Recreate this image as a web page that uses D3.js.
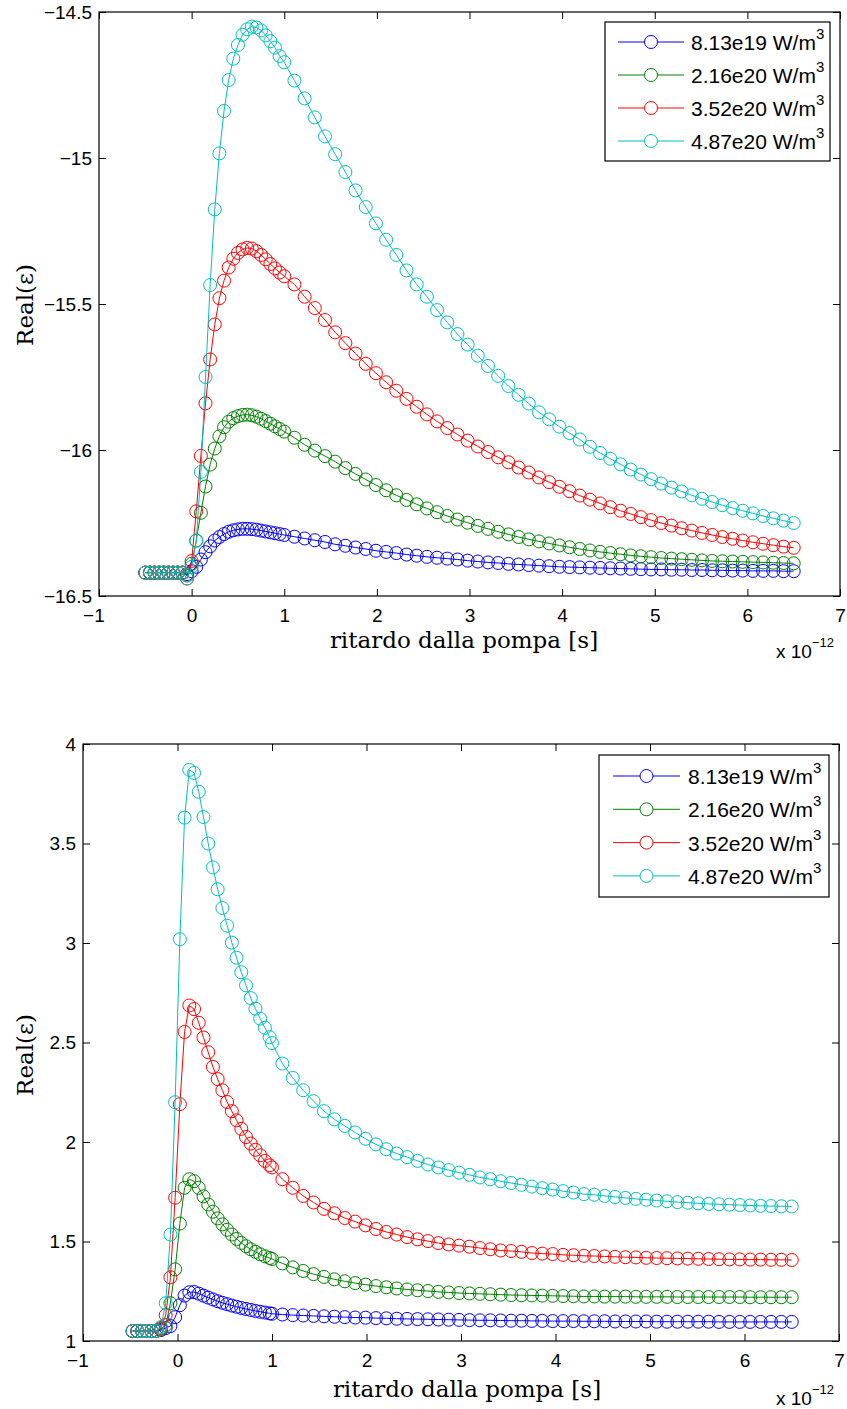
<!DOCTYPE html>
<html>
<head>
<meta charset="utf-8">
<script src="https://cdn.jsdelivr.net/npm/d3@7"></script>
<style>
  html, body { margin: 0; padding: 0; background: #ffffff; }
  svg { display: block; }
</style>
</head>
<body>
<svg id="chart" width="847" height="1409"></svg>
<script>
// ---- delay axis (units of 1e-12 s) ----
const xTop = [-0.5,-0.45,-0.4,-0.35,-0.3,-0.25,-0.2,-0.15,-0.1,-0.05,
  0,0.05,0.1,0.15,0.2,0.25,0.3,0.35,0.4,0.45,0.5,0.55,0.6,0.65,0.7,0.75,0.8,0.85,0.9,0.95,1,
  1.11,1.22,1.33,1.44,1.55,1.66,1.77,1.88,1.99,2.1,2.21,2.32,2.43,2.54,2.65,2.76,2.87,2.98,3.09,
  3.2,3.31,3.42,3.53,3.64,3.75,3.86,3.97,4.08,4.19,4.3,4.41,4.52,4.63,4.74,4.85,4.96,5.07,5.18,5.29,
  5.4,5.51,5.62,5.73,5.84,5.95,6.06,6.17,6.28,6.39,6.5];

const xBottom = [-0.475,-0.425,-0.375,-0.325,-0.275,-0.225,-0.175,-0.125,-0.075,-0.025,
  0.025,0.075,0.125,0.175,0.225,0.275,0.325,0.375,0.425,0.475,0.525,0.575,0.625,0.675,0.725,0.775,0.825,0.875,0.925,0.975,1,
  1.11,1.22,1.33,1.44,1.55,1.66,1.77,1.88,1.99,2.1,2.21,2.32,2.43,2.54,2.65,2.76,2.87,2.98,3.09,
  3.2,3.31,3.42,3.53,3.64,3.75,3.86,3.97,4.08,4.19,4.3,4.41,4.52,4.63,4.74,4.85,4.96,5.07,5.18,5.29,
  5.4,5.51,5.62,5.73,5.84,5.95,6.06,6.17,6.28,6.39,6.5];

// ---- upper panel: Real(eps) ----
const topBlue = [-16.42,-16.42,-16.42,-16.42,-16.42,-16.42,-16.42,-16.42,-16.42,-16.425,
  -16.415,-16.40,-16.375,-16.35,-16.33,-16.31,-16.298,-16.288,-16.28,-16.275,-16.272,-16.27,-16.27,-16.271,-16.273,-16.276,-16.279,-16.282,-16.285,-16.288,-16.291,
  -16.297,-16.303,-16.309,-16.315,-16.323,-16.328,-16.334,-16.339,-16.345,-16.349,
  -16.353,-16.358,-16.362,-16.366,-16.369,-16.372,-16.375,-16.379,-16.382,-16.385,
  -16.387,-16.39,-16.392,-16.394,-16.396,-16.398,-16.4,-16.401,-16.402,-16.403,
  -16.404,-16.405,-16.406,-16.407,-16.408,-16.409,-16.409,-16.41,-16.41,-16.411,
  -16.411,-16.412,-16.412,-16.413,-16.413,-16.414,-16.414,-16.414,-16.415,-16.415];

const topGreen = [-16.42,-16.42,-16.42,-16.42,-16.42,-16.42,-16.42,-16.42,-16.42,-16.43,
  -16.39,-16.31,-16.215,-16.125,-16.05,-15.995,-15.953,-15.922,-15.903,-15.891,-15.884,-15.88,-15.879,-15.881,-15.886,-15.893,-15.901,-15.91,-15.919,-15.928,-15.937,
  -15.958,-15.982,-16.002,-16.021,-16.04,-16.062,-16.082,-16.101,-16.12,-16.138,
  -16.155,-16.171,-16.186,-16.2,-16.213,-16.226,-16.238,-16.249,-16.26,-16.27,
  -16.28,-16.289,-16.298,-16.306,-16.313,-16.32,-16.327,-16.333,-16.339,-16.344,
  -16.349,-16.353,-16.357,-16.361,-16.364,-16.367,-16.37,-16.372,-16.374,-16.376,
  -16.378,-16.38,-16.381,-16.382,-16.383,-16.384,-16.385,-16.386,-16.387,-16.388];

const topRed = [-16.42,-16.42,-16.42,-16.42,-16.42,-16.42,-16.42,-16.42,-16.42,-16.44,
  -16.38,-16.21,-16.02,-15.84,-15.69,-15.57,-15.48,-15.42,-15.375,-15.345,-15.325,-15.313,-15.308,-15.31,-15.319,-15.332,-15.347,-15.363,-15.378,-15.392,-15.405,
  -15.433,-15.475,-15.514,-15.555,-15.597,-15.634,-15.67,-15.705,-15.737,-15.768,
  -15.797,-15.825,-15.852,-15.878,-15.902,-15.925,-15.947,-15.968,-15.988,-16.007,
  -16.025,-16.042,-16.06,-16.077,-16.094,-16.11,-16.126,-16.141,-16.156,-16.17,
  -16.183,-16.196,-16.208,-16.219,-16.23,-16.24,-16.25,-16.259,-16.268,-16.276,
  -16.284,-16.291,-16.298,-16.304,-16.31,-16.316,-16.321,-16.326,-16.331,-16.335];

const topCyan = [-16.42,-16.42,-16.42,-16.42,-16.42,-16.42,-16.42,-16.42,-16.42,-16.44,
  -16.40,-16.311,-16.075,-15.75,-15.435,-15.176,-14.984,-14.839,-14.733,-14.66,-14.613,-14.578,-14.559,-14.55,-14.553,-14.563,-14.58,-14.6,-14.622,-14.651,-14.672,
  -14.735,-14.796,-14.861,-14.926,-14.987,-15.048,-15.111,-15.168,-15.224,-15.28,
  -15.332,-15.385,-15.433,-15.475,-15.521,-15.563,-15.603,-15.639,-15.677,-15.712,
  -15.746,-15.781,-15.811,-15.841,-15.871,-15.895,-15.92,-15.942,-15.964,-15.989,
  -16.01,-16.03,-16.049,-16.067,-16.084,-16.1,-16.115,-16.129,-16.142,-16.155,
  -16.167,-16.178,-16.189,-16.199,-16.208,-16.217,-16.226,-16.234,-16.242,-16.25];

// ---- lower panel: Real(eps) ----
const botBlue = [1.05,1.05,1.05,1.05,1.05,1.05,1.055,1.065,1.075,1.12,
  1.18,1.228,1.245,1.246,1.238,1.228,1.218,1.209,1.2,1.192,1.185,1.178,1.172,1.166,1.161,1.156,1.151,1.147,1.143,1.139,1.137,
  1.133,1.13,1.128,1.126,1.124,1.122,1.12,1.118,1.117,1.115,
  1.114,1.112,1.111,1.11,1.109,1.108,1.107,1.106,1.105,1.104,
  1.104,1.103,1.102,1.102,1.101,1.101,1.1,1.1,1.1,1.099,
  1.099,1.099,1.098,1.098,1.098,1.098,1.097,1.097,1.097,1.097,
  1.097,1.097,1.096,1.096,1.096,1.096,1.096,1.096,1.096,1.096];

const botGreen = [1.05,1.05,1.05,1.05,1.05,1.05,1.06,1.08,1.19,1.36,
  1.59,1.77,1.813,1.803,1.77,1.727,1.686,1.65,1.616,1.586,1.559,1.535,1.513,1.493,1.476,1.461,1.448,1.436,1.426,1.417,1.412,
  1.39,1.37,1.352,1.336,1.322,1.31,1.3,1.291,1.283,1.276,
  1.27,1.264,1.259,1.255,1.251,1.247,1.244,1.241,1.239,1.237,
  1.235,1.233,1.231,1.23,1.229,1.228,1.227,1.226,1.225,1.224,
  1.224,1.223,1.223,1.223,1.222,1.222,1.222,1.222,1.221,1.221,
  1.221,1.221,1.221,1.221,1.221,1.22,1.22,1.22,1.22,1.22];

const botRed = [1.05,1.05,1.05,1.05,1.05,1.05,1.065,1.13,1.32,1.72,
  2.19,2.553,2.686,2.668,2.599,2.525,2.451,2.377,2.316,2.26,2.201,2.155,2.109,2.066,2.025,1.992,1.961,1.933,1.905,1.883,1.872,
  1.813,1.77,1.729,1.696,1.664,1.642,1.618,1.6,1.581,1.563,
  1.548,1.535,1.522,1.511,1.502,1.492,1.485,1.479,1.474,1.467,
  1.461,1.455,1.452,1.448,1.442,1.439,1.437,1.433,1.431,1.428,
  1.427,1.425,1.423,1.421,1.42,1.418,1.417,1.416,1.415,1.414,
  1.413,1.412,1.411,1.41,1.41,1.409,1.409,1.408,1.408,1.407];

const botCyan = [1.05,1.05,1.05,1.05,1.05,1.05,1.07,1.19,1.535,2.2,
  3.019,3.63,3.87,3.855,3.76,3.633,3.5,3.38,3.27,3.176,3.087,3.002,2.926,2.853,2.787,2.723,2.67,2.62,2.574,2.527,2.497,
  2.394,2.322,2.26,2.205,2.155,2.114,2.081,2.048,2.016,1.988,
  1.964,1.942,1.924,1.905,1.887,1.872,1.859,1.846,1.835,1.822,
  1.813,1.803,1.794,1.785,1.776,1.768,1.761,1.753,1.746,1.738,
  1.735,1.729,1.724,1.719,1.714,1.71,1.706,1.702,1.698,1.695,
  1.692,1.689,1.687,1.685,1.683,1.681,1.679,1.678,1.677,1.676];

// ---- legend, colours, ticks ----
const legendLabels = ["8.13e19 W/m", "2.16e20 W/m", "3.52e20 W/m", "4.87e20 W/m"];
const seriesColors = ["#0000ff", "#008000", "#ff0000", "#00bfbf"];
const xTicks = [-1, 0, 1, 2, 3, 4, 5, 6, 7];
const yTicksTop = [-16.5, -16, -15.5, -15, -14.5];
const yTicksBottom = [1, 1.5, 2, 2.5, 3, 3.5, 4];

const SANS = "'Liberation Sans', Arial, Helvetica, sans-serif";
const SERIF = "'DejaVu Serif', 'Liberation Serif', serif";
const TICK_FONT = 19;
const fmt = v => (v < 0 ? "\u2212" : "") + Math.abs(v);

const svg = d3.select("#chart");
svg.append("rect").attr("width", 847).attr("height", 1409).attr("fill", "#ffffff");

function drawPanel(p) {
  const g = svg.append("g");
  const x = d3.scaleLinear().domain([-1, 7]).range([p.left, p.right]);
  const y = d3.scaleLinear().domain(p.yDomain).range([p.bottom, p.top]);
  const line = d3.line().x(d => x(d[0])).y(d => y(d[1]));

  // data series: connecting line plus open circle markers
  p.series.forEach((vals, i) => {
    const pts = p.xs.map((xv, k) => [xv, vals[k]]).filter(d => d[1] !== undefined);
    const sg = g.append("g");
    sg.append("path").datum(pts)
      .attr("d", line).attr("fill", "none")
      .attr("stroke", seriesColors[i]).attr("stroke-width", 1);
    sg.selectAll("circle").data(pts).join("circle")
      .attr("cx", d => x(d[0])).attr("cy", d => y(d[1])).attr("r", 6.5)
      .attr("fill", "none").attr("stroke", seriesColors[i]).attr("stroke-width", 1);
  });

  // axes with inward ticks on all four sides
  const tick = 7;
  const gx = g.append("g").attr("transform", `translate(0,${p.bottom})`)
    .call(d3.axisBottom(x).tickValues(xTicks).tickSizeInner(-tick).tickSizeOuter(0)
      .tickPadding(13).tickFormat(d => String(Math.abs(d))));
  g.append("g").attr("transform", `translate(${p.left},0)`)
    .call(d3.axisLeft(y).tickValues(p.yTicks).tickSizeInner(-tick).tickSizeOuter(0)
      .tickPadding(7).tickFormat(fmt));
  g.append("g").attr("transform", `translate(0,${p.top})`)
    .call(d3.axisTop(x).tickValues(xTicks).tickSizeInner(-tick).tickSizeOuter(0).tickFormat(""));
  g.append("g").attr("transform", `translate(${p.right},0)`)
    .call(d3.axisRight(y).tickValues(p.yTicks).tickSizeInner(-tick).tickSizeOuter(0).tickFormat(""));
  g.selectAll(".domain").remove();
  g.selectAll(".tick line").attr("stroke", "#000").attr("stroke-width", 1);
  g.selectAll(".tick text").attr("font-family", SANS).attr("font-size", TICK_FONT).attr("fill", "#000");

  // negative x labels: digits centred on the tick, minus sign hanging to the left
  gx.selectAll(".tick").each(function (d) {
    if (d < 0) {
      const t = d3.select(this).select("text");
      const w = t.node().getComputedTextLength();
      d3.select(this).append("text")
        .attr("x", -w / 2).attr("y", t.attr("y")).attr("dy", t.attr("dy"))
        .attr("text-anchor", "end").attr("font-family", SANS).attr("font-size", TICK_FONT)
        .attr("fill", "#000").text("\u2212");
    }
  });

  // frame
  g.append("rect").attr("x", p.left).attr("y", p.top)
    .attr("width", p.right - p.left).attr("height", p.bottom - p.top)
    .attr("fill", "none").attr("stroke", "#000").attr("stroke-width", 1.2);

  // axis labels
  g.append("text").attr("x", p.xLabel[0]).attr("y", p.xLabel[1])
    .attr("text-anchor", "middle").attr("font-family", SERIF).attr("font-size", 23)
    .attr("fill", "#000").text("ritardo dalla pompa [s]");
  g.append("text")
    .attr("transform", `translate(${p.yLabel[0]},${p.yLabel[1]}) rotate(-90)`)
    .attr("text-anchor", "middle").attr("font-family", SERIF).attr("font-size", 23)
    .attr("fill", "#000").text("Real(\u03b5)");

  // exponent note
  const ex = g.append("text").attr("x", p.expo[0]).attr("y", p.expo[1])
    .attr("font-family", SANS).attr("font-size", 19).attr("fill", "#000");
  ex.append("tspan").text("x 10");
  ex.append("tspan").attr("font-size", 13).attr("dy", -11).text("\u221212");

  // legend
  const L = p.legend;
  const lg = g.append("g");
  lg.append("rect").attr("x", L.x).attr("y", L.y).attr("width", L.w).attr("height", L.h)
    .attr("fill", "#fff").attr("stroke", "#000").attr("stroke-width", 1.2);
  legendLabels.forEach((lab, i) => {
    const cy = L.row0 + i * L.step;
    lg.append("line").attr("x1", L.lineX0).attr("x2", L.lineX1).attr("y1", cy).attr("y2", cy)
      .attr("stroke", seriesColors[i]).attr("stroke-width", 1);
    lg.append("circle").attr("cx", (L.lineX0 + L.lineX1) / 2).attr("cy", cy).attr("r", 6.5)
      .attr("fill", "#fff").attr("stroke", seriesColors[i]).attr("stroke-width", 1);
    const t = lg.append("text").attr("x", L.textX).attr("y", cy + 8)
      .attr("font-family", SANS).attr("font-size", 21).attr("fill", "#000");
    t.append("tspan").text(lab);
    t.append("tspan").attr("font-size", 15).attr("dy", -11).text("3");
  });
}

drawPanel({
  left: 99, right: 840, top: 12, bottom: 596,
  yDomain: [-16.5, -14.5], yTicks: yTicksTop, xs: xTop,
  series: [topBlue, topGreen, topRed, topCyan],
  xLabel: [464, 648], yLabel: [33, 305], expo: [776, 658],
  legend: { x: 605, y: 22, w: 225, h: 139, row0: 42, step: 33, lineX0: 618, lineX1: 684, textX: 691 }
});

drawPanel({
  left: 83, right: 839, top: 744, bottom: 1341,
  yDomain: [1, 4], yTicks: yTicksBottom, xs: xBottom,
  series: [botBlue, botGreen, botRed, botCyan],
  xLabel: [467, 1397], yLabel: [33, 1055], expo: [776, 1405],
  legend: { x: 599, y: 755, w: 230, h: 142, row0: 776, step: 33.3, lineX0: 613, lineX1: 680, textX: 688 }
});
</script>
</body>
</html>
